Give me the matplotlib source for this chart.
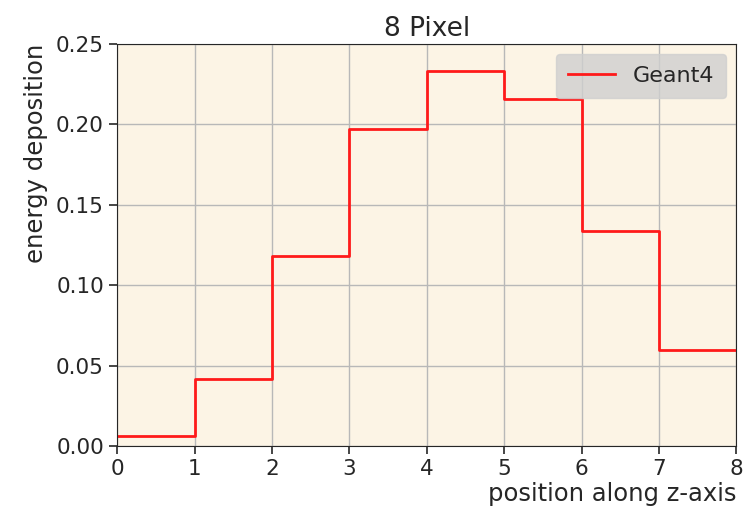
import numpy as np
import matplotlib
matplotlib.use('Agg')
import matplotlib.pyplot as plt

# deposited energy per pixel along z
edges = [0, 1, 2, 3, 4, 5, 6, 7, 8]
geant4 = [0.0066, 0.0418, 0.1179, 0.1969, 0.2329, 0.2157, 0.1338, 0.0596]

plt.rcParams['text.color'] = '#262626'
plt.rcParams['axes.labelcolor'] = '#262626'
plt.rcParams['xtick.color'] = '#262626'
plt.rcParams['ytick.color'] = '#262626'

fig, ax = plt.subplots(figsize=(7.46, 5.17), dpi=100)
ax.set_facecolor('#fcf4e5')

ax.step(edges, geant4 + [geant4[-1]], where='post', color='#ff1a1a', lw=2,
        label='Geant4')

ax.set_xlim(0, 8)
ax.set_ylim(0, 0.25)
ax.set_yticks(np.arange(0, 0.26, 0.05))
ax.grid(True, color='#b8b8b8', lw=1)
ax.set_axisbelow(True)
ax.tick_params(labelsize=15.5, length=6, width=1.2)
for s in ax.spines.values():
    s.set_color('#262626')

ax.set_title('8 Pixel', fontsize=19)
ax.set_xlabel('position along z-axis', fontsize=17.5, loc='right', labelpad=2)
ax.set_ylabel('energy deposition', fontsize=17.5, loc='top', labelpad=6)
leg = ax.legend(loc='upper right', fontsize=16, facecolor='#cfcfcf',
                edgecolor='#cfcfcf', framealpha=0.8, handlelength=2.1,
                borderpad=0.55, borderaxespad=0.45)

plt.subplots_adjust(left=0.157, right=0.987, top=0.915, bottom=0.137)
plt.savefig('out.png')
